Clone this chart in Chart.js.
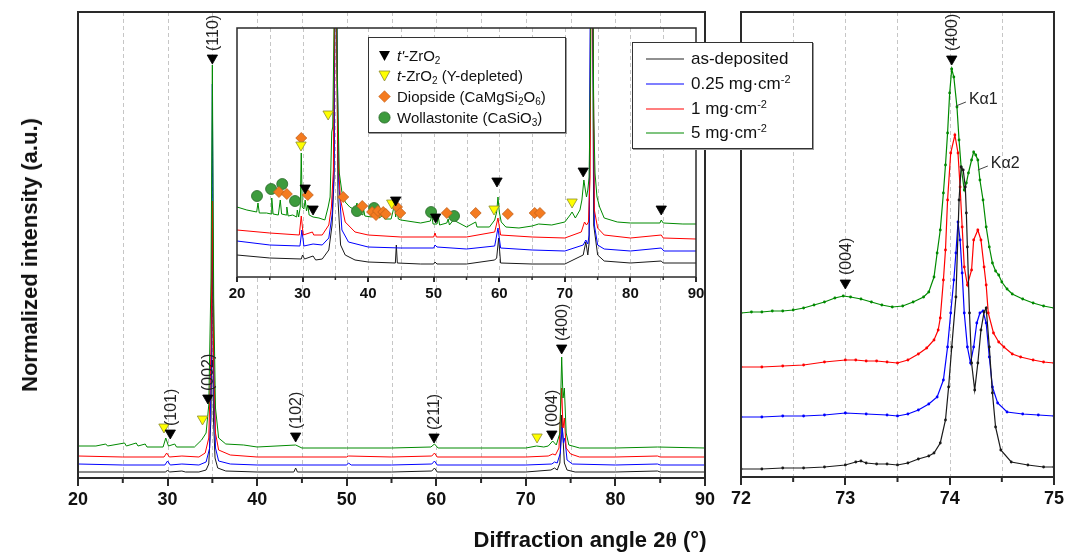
<!DOCTYPE html>
<html>
<head>
<meta charset="utf-8">
<script src="https://cdn.jsdelivr.net/npm/chart.js@4.4.1/dist/chart.umd.min.js"></script>
<style>
  body { margin:0; background:#fff; width:1067px; height:557px; overflow:hidden; position:relative;
         font-family:"Liberation Sans", Arial, sans-serif; color:#111; }
  canvas { position:absolute; }
  .box { position:absolute; background:#fff; border:1px solid #333; box-shadow:1px 1px 0 #999; }
  .row { position:absolute; left:0; right:0; white-space:nowrap; }
  .row svg { position:absolute; }
  .row span { position:absolute; }
  sub { font-size:10px; vertical-align:-3px; line-height:0; }
  sup { font-size:11px; vertical-align:6px; line-height:0; }
  .title { position:absolute; font-weight:bold; font-size:22px; white-space:nowrap; color:#111; }
</style>
</head>
<body>
<canvas id="main" width="720" height="557" style="left:0;top:0"></canvas>
<canvas id="zoom" width="347" height="557" style="left:720px;top:0"></canvas>
<canvas id="inset" width="490" height="310" style="left:220px;top:0"></canvas>

<!-- phase legend of the inset -->
<div class="box" style="left:368px;top:37px;width:196px;height:94px;font-size:15px;">
  <div class="row" style="top:8px;height:20px;line-height:20px">
    <svg style="left:9px;top:4px" width="13" height="12"><polygon points="1,1 12,1 6.5,11" fill="#000"/></svg>
    <span style="left:28px"><i>t'</i>-ZrO<sub>2</sub></span>
  </div>
  <div class="row" style="top:28px;height:20px;line-height:20px">
    <svg style="left:9px;top:4px" width="13" height="12"><polygon points="1,1 12,1 6.5,11" fill="#ffff00" stroke="#8c8c30" stroke-width="0.8"/></svg>
    <span style="left:28px"><i>t</i>-ZrO<sub>2</sub> (Y-depleted)</span>
  </div>
  <div class="row" style="top:49px;height:20px;line-height:20px">
    <svg style="left:9px;top:3px" width="13" height="13"><polygon points="6.5,0.7 12.3,6.5 6.5,12.3 0.7,6.5" fill="#f47b20" stroke="#c0601a" stroke-width="0.6"/></svg>
    <span style="left:28px">Diopside (CaMgSi<sub>2</sub>O<sub>6</sub>)</span>
  </div>
  <div class="row" style="top:70px;height:20px;line-height:20px">
    <svg style="left:9px;top:3px" width="13" height="13"><circle cx="6.5" cy="6.5" r="5.6" fill="#3d9b3d" stroke="#2a6a2a" stroke-width="0.8"/></svg>
    <span style="left:28px">Wollastonite (CaSiO<sub>3</sub>)</span>
  </div>
</div>

<!-- series legend -->
<div class="box" style="left:632px;top:42px;width:179px;height:105px;font-size:17px;">
  <div class="row" style="top:5px;height:22px;line-height:22px"><svg style="left:13px;top:9px" width="38" height="4"><line x1="0" y1="2" x2="38" y2="2" stroke="#222" stroke-width="1.2"/></svg><span style="left:58px">as-deposited</span></div>
  <div class="row" style="top:30px;height:22px;line-height:22px"><svg style="left:13px;top:9px" width="38" height="4"><line x1="0" y1="2" x2="38" y2="2" stroke="#0000ff" stroke-width="1.2"/></svg><span style="left:58px">0.25 mg·cm<sup>-2</sup></span></div>
  <div class="row" style="top:55px;height:22px;line-height:22px"><svg style="left:13px;top:9px" width="38" height="4"><line x1="0" y1="2" x2="38" y2="2" stroke="#ff0000" stroke-width="1.2"/></svg><span style="left:58px">1 mg·cm<sup>-2</sup></span></div>
  <div class="row" style="top:79px;height:22px;line-height:22px"><svg style="left:13px;top:9px" width="38" height="4"><line x1="0" y1="2" x2="38" y2="2" stroke="#008a00" stroke-width="1.2"/></svg><span style="left:58px">5 mg·cm<sup>-2</sup></span></div>
</div>

<div class="title" style="left:30px;top:255px;transform:translate(-50%,-50%) rotate(-90deg);">Normalized intensity (a.u.)</div>
<div class="title" style="left:390px;width:400px;top:527px;text-align:center;">Diffraction angle 2<span style="font-family:'Liberation Serif',serif">θ</span> (°)</div>

<script>
// ---- full-range patterns, 2θ (deg) vs. normalized intensity (a.u.) ----
const mainAsDeposited = [[20,6],[25,6],[29.8,6],[30.0,8],[30.2,6],[31.6,7],[32,6],[33.5,6],[34.3,8],[34.6,14],[34.85,60],[35.0,250],[35.12,60],[35.3,20],[35.6,10],[36.5,7],[40,6],[44.1,6],[44.3,10],[44.5,6],[50,6],[55,6],[59.5,7],[59.8,10],[60.1,6],[65,6],[70,6],[72.8,8],[73.2,10],[73.5,8],[73.8,15],[74.0,63],[74.15,40],[74.3,15],[74.6,8],[75.5,6],[80,6],[84.7,7],[85,6],[90,6]];
const mainLow = [[20,14],[25,13],[29.7,13],[30.0,17],[30.3,13],[31.6,14],[33.5,13],[34.3,16],[34.7,30],[34.9,120],[35.0,394],[35.15,100],[35.35,30],[35.7,17],[37,14],[40,13],[45,13],[50,13],[50.2,15],[50.5,13],[55,13],[59.5,14],[59.8,17],[60.1,13],[65,13],[70,13],[72.9,14],[73.2,16],[73.5,15],[73.85,25],[74.05,51],[74.2,35],[74.35,40],[74.6,18],[75.2,14],[80,13],[84.7,14],[85,13],[90,13]];
const mainMid = [[20,22],[25,21],[29.6,21],[29.9,25],[30.2,21],[31.6,22],[33.5,21],[34.2,25],[34.6,40],[34.85,130],[35.0,277],[35.15,120],[35.35,45],[35.7,28],[37,23],[40,21],[45,21],[50,21],[50.2,22],[55,21],[59.5,22],[59.8,25],[60.1,21],[65,21],[70,21],[72.5,22],[73.0,24],[73.3,23],[73.7,30],[74.0,90],[74.15,50],[74.3,60],[74.5,30],[75,24],[76,21],[80,21],[84.7,22],[85,21],[90,21]];
const mainHigh = [[20,32],[22,32],[23.1,34],[23.3,32],[25.2,35],[25.4,32],[26.5,35],[26.7,32],[27.5,34],[27.7,31],[29.5,31],[29.8,40],[30.1,32],[30.8,34],[31.0,31],[33,31],[33.8,38],[34.3,45],[34.6,73],[34.85,200],[35.0,413],[35.15,180],[35.35,70],[35.7,40],[36.5,34],[38.5,33],[40,31],[44.3,33],[45,30],[50,30],[55,30],[59.4,31],[59.8,34],[60.2,30],[65,30],[70,30],[71.2,32],[72,31],[72.5,32],[73.0,37],[73.4,33],[73.8,45],[74.0,121],[74.15,80],[74.3,90],[74.5,45],[74.8,33],[76,30],[80,30],[84.7,31],[90,30]];

// t'-ZrO2 reflections marked on the full-range patterns
const mainPeakTheta = [35.0, 30.3, 34.5, 44.3, 59.75, 72.9, 74.0];
const mainPeakLevel = [420, 45, 80, 42, 41, 44, 130];
const mainPeakLabels = ['(110)', '(101)', '(002)', '(102)', '(211)', '(004)', '(400)'];
const mainDepleted = [[29.6,51],[33.9,59],[71.25,41]];

// ---- inset: baseline detail of the same patterns ----
const insetAsDeposited = [[20,22],[25,19],[29.8,18],[30.0,22],[30.3,18],[31.6,21],[32,17],[33,18],[34,27],[34.5,52],[34.8,97],[34.95,300],[35.15,300],[35.4,77],[35.8,32],[36.5,22],[38,17],[40,15],[44.15,14],[44.3,32],[44.45,14],[48,13],[50,13],[50.2,15],[50.5,13],[55,13],[59.3,17],[59.6,19],[59.9,39],[60.2,14],[65,13],[70,13],[72.8,22],[73.2,35],[73.5,22],[73.7,34],[73.95,300],[74.2,300],[74.4,52],[75,22],[76,16],[80,14],[84.7,16],[85,14],[90,14]];
const insetLow = [[20,36],[25,32],[29.6,31],[29.9,47],[30.2,31],[31.6,33],[33,32],[34,39],[34.5,62],[34.8,107],[34.95,300],[35.15,300],[35.5,97],[36,47],[37,35],[40,30],[45,29],[50,29],[50.2,32],[50.5,30],[55,28],[59.3,31],[59.8,49],[60.2,29],[65,27],[70,26],[72.8,32],[73.2,37],[73.5,33],[73.7,42],[73.9,300],[74.25,300],[74.5,52],[75,32],[76,28],[80,26],[84.7,29],[85.1,26],[90,26]];
const insetMid = [[20,47],[25,44],[29.5,42],[29.8,61],[30.1,42],[31.5,45],[31.7,42],[33,42],[34,52],[34.4,70],[34.7,107],[34.9,300],[35.1,300],[35.4,117],[35.8,77],[36.5,55],[38,45],[40,42],[45,40],[50,40],[50.2,44],[50.4,40],[55,40],[59.3,45],[59.8,59],[60.2,42],[65,40],[70,39],[72.5,45],[73.0,55],[73.3,52],[73.6,55],[73.85,100],[74.0,300],[74.25,300],[74.5,67],[75,49],[76,42],[80,39],[84.7,42],[85,39],[90,38]];
const insetHigh = [[20,70],[21.5,67],[23.0,65],[23.2,74],[23.4,64],[24.5,64],[25.2,63],[25.3,79],[25.5,63],[26.3,62],[26.6,77],[26.8,63],[27.5,62],[27.6,70],[27.8,61],[28.5,62],[29.1,60],[29.2,67],[29.4,60],[29.65,70],[29.8,124],[29.95,70],[30.2,68],[30.4,77],[30.6,66],[30.8,72],[31.0,62],[31.6,60],[32.5,59],[33.4,57],[33.9,70],[34.2,80],[34.45,145],[34.6,150],[34.8,250],[34.95,400],[35.1,400],[35.3,200],[35.6,104],[36.0,85],[36.5,75],[37.2,70],[38.0,67],[38.3,74],[38.5,65],[39.2,62],[39.3,68],[39.5,61],[40.5,60],[40.9,67],[41.1,60],[41.5,66],[41.7,59],[42.3,62],[42.5,58],[43.5,58],[43.8,66],[44.0,74],[44.2,60],[44.4,70],[44.6,58],[45.0,57],[47,55],[48,54],[49.5,56],[49.7,62],[49.9,53],[50.5,53],[50.7,60],[50.9,52],[52,54],[52.2,58],[52.4,52],[53,57],[55,50],[56.4,55],[56.6,50],[58.5,50],[59.3,57],[59.6,65],[59.8,80],[60.0,65],[60.3,55],[61,50],[63,49],[65,51],[66,53],[68,52],[70,55],[70.8,62],[71.1,65],[71.6,59],[72.3,67],[72.6,77],[72.9,97],[73.1,88],[73.3,80],[73.5,87],[73.7,100],[73.9,200],[74.05,400],[74.2,400],[74.4,160],[74.6,104],[74.9,80],[75.3,70],[76,59],[78,55],[80,54],[84.5,54],[84.7,57],[85,54],[88,53],[90,53]];

// phase identification marks in the inset
const insetTPrime = [[30.4,89],[31.6,68],[34.8,259],[44.2,77],[50.3,60],[59.65,96],[72.8,106],[74.1,259],[84.7,68]];
const insetDepleted = [[29.76,132],[33.9,163],[43.6,74],[59.2,68],[71.1,75]];
const insetDiopside = [[26.4,85],[27.6,83],[29.8,139],[30.8,82],[36.2,80],[39.1,71],[40.6,65],[41.2,62],[41.5,66],[42.3,65],[42.7,63],[44.4,70],[44.9,64],[52.0,64],[56.4,64],[61.3,63],[65.4,64],[66.2,64]];
const insetWollastonite = [[23.05,81],[25.2,88],[26.9,93],[28.85,76],[38.3,66],[40.9,69],[49.6,65],[53.1,61]];

// ---- right panel: the (400) doublet region ----
const zoomAsDeposited = [[72.0,8],[72.2,8],[72.4,9],[72.6,9],[72.8,10],[73.0,12],[73.1,15],[73.15,16],[73.2,14],[73.3,13],[73.4,13],[73.5,12],[73.6,14],[73.7,18],[73.8,21],[73.85,24],[73.91,34],[73.96,57],[73.99,90],[74.02,130],[74.06,180],[74.09,277],[74.11,310],[74.13,307],[74.15,290],[74.16,264],[74.17,230],[74.19,164],[74.21,114],[74.24,87],[74.27,114],[74.3,147],[74.33,165],[74.35,169],[74.38,130],[74.41,84],[74.44,50],[74.49,27],[74.59,15],[74.75,12],[74.9,10],[75.0,10]];
const zoomLow = [[72.0,60],[72.2,60],[72.4,61],[72.6,61],[72.8,62],[73.0,64],[73.2,63],[73.4,62],[73.5,61],[73.6,63],[73.7,67],[73.8,73],[73.88,80],[73.94,97],[73.98,130],[74.01,164],[74.04,197],[74.06,224],[74.08,255],[74.1,237],[74.12,204],[74.14,164],[74.17,130],[74.2,114],[74.23,130],[74.26,154],[74.29,164],[74.32,166],[74.35,154],[74.38,120],[74.41,90],[74.46,74],[74.55,65],[74.7,63],[74.85,62],[75.0,61]];
const zoomMid = [[72.0,110],[72.2,110],[72.4,111],[72.6,112],[72.8,115],[73.0,117],[73.1,117],[73.2,116],[73.3,116],[73.4,115],[73.5,114],[73.6,117],[73.7,123],[73.78,129],[73.85,137],[73.89,147],[73.91,159],[73.94,197],[73.96,227],[73.98,277],[74.01,324],[74.05,342],[74.08,324],[74.1,290],[74.12,250],[74.14,210],[74.17,192],[74.21,207],[74.23,237],[74.27,247],[74.3,237],[74.33,210],[74.35,192],[74.37,164],[74.42,144],[74.47,135],[74.52,130],[74.6,123],[74.68,120],[74.8,117],[74.9,115],[75.0,114]];
const zoomHigh = [[72.0,164],[72.1,165],[72.2,165],[72.3,166],[72.4,166],[72.5,167],[72.6,169],[72.7,172],[72.8,175],[72.9,179],[72.98,181],[73.05,180],[73.15,178],[73.25,175],[73.35,172],[73.45,170],[73.55,171],[73.65,175],[73.75,180],[73.8,185],[73.85,200],[73.88,224],[73.91,247],[73.94,284],[73.96,312],[73.98,344],[74.0,384],[74.02,408],[74.04,400],[74.07,370],[74.09,337],[74.11,310],[74.14,287],[74.16,294],[74.18,304],[74.21,317],[74.23,325],[74.25,322],[74.27,317],[74.29,297],[74.32,277],[74.35,250],[74.38,230],[74.41,214],[74.44,206],[74.47,202],[74.5,195],[74.55,188],[74.6,183],[74.7,178],[74.8,174],[74.9,171],[75.0,169]];
const zoomPeakTheta = [74.02, 73.0];
const zoomPeakLevel = [418, 194];
const zoomPeakLabels = ['(400)', '(004)'];
const zoomCalloutText = ['Kα1', 'Kα2'];
const zoomCalloutAnchor = [[74.06,371],[74.27,307]];

// ---- axis tick values ----
const fullGrid = [25,30,35,40,45,50,55,60,65,70,75,80,85];
const fullMinor = [25,35,45,55,65,75,85];
const zoomGrid = [72.5,73,73.5,74,74.5];
const zoomMinor = [72.5,73.5,74.5];

const BLACK = '#1a1a1a', BLUE = '#0000ff', RED = '#ff0000', GREEN = '#008a00';
const FONT = '"Liberation Sans", Arial, sans-serif';

const pts = arr => arr.map(([x, y]) => ({x, y}));
const zip = (xs, ys) => xs.map((x, i) => ({x, y: ys[i]}));

function curve(data, color, dots) {
  return {
    data: pts(data), showLine: true, borderColor: color, borderWidth: dots ? 1.2 : 1, tension: 0,
    pointRadius: dots ? 1.4 : 0, pointBackgroundColor: color, pointBorderWidth: 0, order: 2
  };
}
function marks(data, style, fill, stroke, r, rot) {
  return {
    data: Array.isArray(data[0]) ? pts(data) : data, showLine: false, pointStyle: style, rotation: rot || 0,
    pointRadius: r, backgroundColor: fill, borderColor: stroke, borderWidth: 0.8, clip: false, order: 0
  };
}

// frame, dashed grid, minor ticks, rotated reflection labels and callouts
const decor = {
  id: 'decor',
  beforeDraw(chart, args, o) {
    const {ctx, chartArea: a} = chart, x = chart.scales.x;
    ctx.save();
    if (o.fill) { ctx.fillStyle = '#fff'; ctx.fillRect(a.left, a.top, a.right - a.left, a.bottom - a.top); }
    ctx.strokeStyle = '#c6c6c6'; ctx.lineWidth = 1; ctx.setLineDash([4, 3]);
    o.grid.forEach(v => {
      const p = Math.round(x.getPixelForValue(v)) + 0.5;
      ctx.beginPath(); ctx.moveTo(p, a.top); ctx.lineTo(p, a.bottom); ctx.stroke();
    });
    ctx.restore();
  },
  afterDatasetsDraw(chart, args, o) {
    const {ctx, chartArea: a} = chart, x = chart.scales.x, y = chart.scales.y;
    ctx.save();
    ctx.strokeStyle = '#2a2a2a'; ctx.lineWidth = o.frame;
    o.minor.forEach(v => {
      const p = x.getPixelForValue(v);
      ctx.beginPath(); ctx.moveTo(p, a.bottom); ctx.lineTo(p, a.bottom + o.minorLen); ctx.stroke();
    });
    ctx.strokeRect(a.left, a.top, a.right - a.left, a.bottom - a.top);
    ctx.fillStyle = '#222'; ctx.font = o.labelFont;
    (o.labels || []).forEach(l => {
      ctx.save();
      ctx.translate(x.getPixelForValue(l.x) + 1, y.getPixelForValue(l.y) - l.gap);
      ctx.rotate(-Math.PI / 2);
      ctx.textAlign = 'left'; ctx.textBaseline = 'middle';
      ctx.fillText(l.text, 0, 0);
      ctx.restore();
    });
    ctx.lineWidth = 1; ctx.strokeStyle = '#444';
    (o.callouts || []).forEach(c => {
      const px = x.getPixelForValue(c.x), py = y.getPixelForValue(c.y);
      ctx.beginPath(); ctx.moveTo(px, py); ctx.lineTo(px + 10, py - 4); ctx.stroke();
      ctx.textAlign = 'left'; ctx.textBaseline = 'middle';
      ctx.fillText(c.text, px + 13, py - 6);
    });
    ctx.restore();
  }
};
Chart.register(decor);

function xAxis(min, max, step, fontSize, tickLen, height) {
  return {
    type: 'linear', min, max,
    afterFit: s => { s.height = height; },
    border: {display: false},
    grid: {display: true, drawOnChartArea: false, drawTicks: true, tickLength: tickLen, color: '#2a2a2a', lineWidth: 2},
    ticks: {stepSize: step, autoSkip: false, maxRotation: 0, padding: 3, color: '#111',
            font: {family: FONT, size: fontSize, weight: 'bold'}}
  };
}
function baseOptions(padding, x, yMax, decorOpts) {
  return {
    responsive: false, animation: false, devicePixelRatio: 1, events: [],
    layout: {padding},
    scales: {x, y: {type: 'linear', display: false, min: 0, max: yMax}},
    plugins: {legend: {display: false}, tooltip: {enabled: false}, decor: decorOpts}
  };
}

const tri = (d, fill, stroke) => marks(d, 'triangle', fill, stroke, 6, 180);

// full-range patterns
new Chart(document.getElementById('main'), {
  type: 'scatter',
  data: {datasets: [
    tri(zip(mainPeakTheta, mainPeakLevel), '#000', '#000'),
    tri(mainDepleted, '#ffff00', '#8c8c30'),
    curve(mainHigh, GREEN), curve(mainMid, RED), curve(mainLow, BLUE), curve(mainAsDeposited, BLACK)
  ]},
  options: baseOptions({left: 78, right: 15, top: 12, bottom: 0}, xAxis(20, 90, 10, 18, 8, 79), 466, {
    grid: fullGrid, minor: fullMinor, minorLen: 5, frame: 2, labelFont: '16px ' + FONT,
    labels: mainPeakTheta.map((t, i) => ({x: t, y: mainPeakLevel[i], text: mainPeakLabels[i], gap: 7}))
  })
});

// (400) region
new Chart(document.getElementById('zoom'), {
  type: 'scatter',
  data: {datasets: [
    tri(zip(zoomPeakTheta, zoomPeakLevel), '#000', '#000'),
    curve(zoomAsDeposited, BLACK, true), curve(zoomLow, BLUE, true), curve(zoomMid, RED, true), curve(zoomHigh, GREEN, true)
  ]},
  options: baseOptions({left: 21, right: 13, top: 12, bottom: 0}, xAxis(72, 75, 1, 18, 8, 80), 465, {
    grid: zoomGrid, minor: zoomMinor, minorLen: 5, frame: 2, labelFont: '16px ' + FONT,
    labels: zoomPeakTheta.map((t, i) => ({x: t, y: zoomPeakLevel[i], text: zoomPeakLabels[i], gap: 8})),
    callouts: zoomCalloutText.map((t, i) => ({x: zoomCalloutAnchor[i][0], y: zoomCalloutAnchor[i][1], text: t}))
  })
});

// inset with phase marks
new Chart(document.getElementById('inset'), {
  type: 'scatter',
  data: {datasets: [
    tri(insetTPrime, '#000', '#000'),
    tri(insetDepleted, '#ffff00', '#8c8c30'),
    marks(insetDiopside, 'rectRot', '#f47b20', '#c0601a', 5.5),
    marks(insetWollastonite, 'circle', '#3d9b3d', '#2a6a2a', 5.5),
    curve(insetHigh, GREEN), curve(insetMid, RED), curve(insetLow, BLUE), curve(insetAsDeposited, BLACK)
  ]},
  options: baseOptions({left: 17, right: 14, top: 28, bottom: 0}, xAxis(20, 90, 10, 15, 5, 33), 249, {
    fill: true, grid: fullGrid, minor: fullMinor, minorLen: 3, frame: 1.5, labelFont: '14px ' + FONT
  })
});
</script>
</body>
</html>
